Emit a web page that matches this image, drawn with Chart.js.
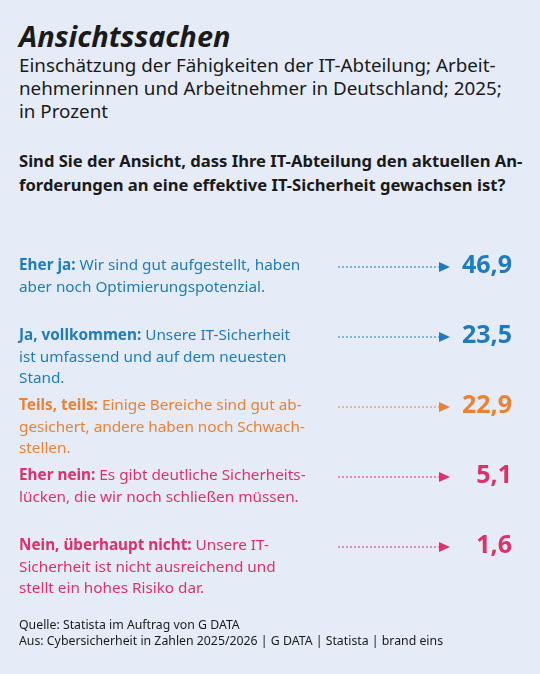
<!DOCTYPE html>
<html><head><meta charset="utf-8">
<script src="https://cdn.jsdelivr.net/npm/chart.js@4"></script>
<style>
body{margin:0;background:#e5ecf7;font-family:"Noto Sans",sans-serif;color:#1a1a1a;width:540px;height:674px;position:relative;overflow:hidden}
#title{position:absolute;left:19px;top:16px;font-size:29px;font-weight:bold;font-style:italic}
#sub{position:absolute;left:19px;top:54px;font-size:18.8px;line-height:23px;width:520px;white-space:nowrap}
#q{position:absolute;left:19px;top:149px;font-size:16.6px;font-weight:bold;line-height:24px;width:520px;white-space:nowrap}
#wrap{position:absolute;left:0;top:242px;width:540px;height:375px}
#foot{position:absolute;left:19px;top:617px;font-size:12.3px;line-height:16px}
</style></head><body>
<div id="title">Ansichtssachen</div>
<div id="sub">Einschätzung der Fähigkeiten der IT-Abteilung; Arbeit-<br>nehmerinnen und Arbeitnehmer in Deutschland; 2025;<br>in Prozent</div>
<div id="q">Sind Sie der Ansicht, dass Ihre IT-Abteilung den aktuellen An-<br>forderungen an eine effektive IT-Sicherheit gewachsen ist?</div>
<div id="wrap"><canvas id="chart"></canvas></div>
<div id="foot">Quelle: Statista im Auftrag von G DATA<br>Aus: Cybersicherheit in Zahlen 2025/2026 | G DATA | Statista | brand eins</div>
<script>
const categories = ["Eher ja:", "Ja, vollkommen:", "Teils, teils:", "Eher nein:", "Nein, überhaupt nicht:"];
const values = [46.9, 23.5, 22.9, 5.1, 1.6];
// text lines per category; first line starts after the bold label
const descriptions = [
  [" Wir sind gut aufgestellt, haben", "aber noch Optimierungspotenzial."],
  [" Unsere IT-Sicherheit", "ist umfassend und auf dem neuesten", "Stand."],
  [" Einige Bereiche sind gut ab-", "gesichert, andere haben noch Schwach-", "stellen."],
  [" Es gibt deutliche Sicherheits-", "lücken, die wir noch schließen müssen."],
  [" Unsere IT-", "Sicherheit ist nicht ausreichend und", "stellt ein hohes Risiko dar."]
];
const colors = ["#1f7bbf", "#1f7bbf", "#eb8233", "#e0306a", "#e0306a"];

const rowPlugin = {
  id: "rows",
  afterDatasetsDraw(chart) {
    const ctx = chart.ctx;
    const meta = chart.getDatasetMeta(0);
    ctx.save();
    meta.data.forEach((bar, i) => {
      const y = bar.y - 11;
      ctx.fillStyle = colors[i];
      ctx.textBaseline = "middle";
      ctx.textAlign = "left";
      ctx.font = "bold 15.3px 'Noto Sans'";
      ctx.fillText(categories[i], 19, y);
      const w = ctx.measureText(categories[i]).width;
      ctx.font = "15.3px 'Noto Sans'";
      descriptions[i].forEach((ln, k) => ctx.fillText(ln, k ? 19 : 19 + w, y + k * 21.5));
      // dashed arrow
      ctx.strokeStyle = colors[i];
      ctx.lineWidth = 1;
      ctx.setLineDash([2, 2]);
      ctx.beginPath(); ctx.moveTo(338, y + 1); ctx.lineTo(440, y + 1); ctx.stroke();
      ctx.setLineDash([]);
      ctx.beginPath(); ctx.moveTo(439, y - 4); ctx.lineTo(450, y + 1); ctx.lineTo(439, y + 6); ctx.closePath(); ctx.fill();
      ctx.font = "bold 25px 'Noto Sans'";
      ctx.textAlign = "right";
      ctx.fillText(values[i].toFixed(1).replace(".", ","), 512, y);
    });
    ctx.restore();
  }
};

new Chart(document.getElementById("chart"), {
  type: "bar",
  data: { labels: categories, datasets: [{ data: values, backgroundColor: "rgba(0,0,0,0)" }] },
  options: {
    indexAxis: "y",
    responsive: true, maintainAspectRatio: false, animation: false,
    layout: { padding: { top: 0, bottom: 25 } },
    plugins: { legend: { display: false }, tooltip: { enabled: false } },
    scales: { x: { display: false, min: 0, max: 50 }, y: { display: false } }
  },
  plugins: [rowPlugin]
});
</script>
</body></html>
